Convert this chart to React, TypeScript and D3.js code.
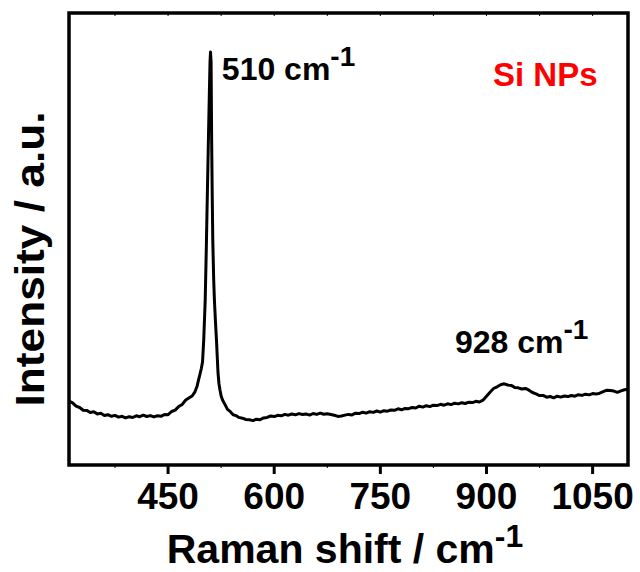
import React from "react";
import * as d3 from "d3";

const shifts: number[] = [
  310, 315, 320, 325, 330, 335, 340, 345, 350, 355, 360, 365, 370, 375, 380, 385, 390, 395, 400, 405,
  410, 415, 420, 425, 430, 435, 440, 445, 450, 455, 460, 465, 470, 475, 480, 484, 488, 491, 493, 495,
  497, 498.7, 500.4, 502.5, 504, 505.5, 507, 508.3, 509.3, 510, 510.8, 511.6, 512.4, 513.2, 514.5, 515.5, 517, 518.4, 519.6, 520.6,
  522, 523.4, 525, 527, 530.5, 534, 538, 542, 546, 550, 555, 560, 565, 570, 575, 580, 585, 590, 595, 600,
  605, 610, 615, 620, 625, 630, 635, 640, 645, 650, 655, 660, 665, 670, 675, 680, 685, 690, 695, 700,
  705, 710, 715, 720, 725, 730, 735, 740, 745, 750, 755, 760, 765, 770, 775, 780, 785, 790, 795, 800,
  805, 810, 815, 820, 825, 830, 835, 840, 845, 850, 855, 860, 865, 870, 875, 880, 885, 890, 895, 900,
  905, 910, 915, 920, 925, 930, 935, 940, 945, 950, 955, 960, 965, 970, 975, 980, 985, 990, 995, 1000,
  1005, 1010, 1015, 1020, 1025, 1030, 1035, 1040, 1045, 1050, 1055, 1060, 1065, 1070, 1075, 1080, 1085, 1090, 1095, 1100,
];

const intensities: number[] = [
  640, 622, 588, 575, 548, 546, 525, 532, 511, 517, 495, 503, 487, 496, 479, 487, 471, 483, 475, 492,
  483, 498, 485, 494, 481, 492, 487, 505, 503, 535, 549, 584, 606, 650, 672, 690, 732, 788, 848, 905,
  965, 1030, 1250, 1650, 2150, 2700, 3250, 3700, 4030, 4130, 4030, 3250, 2700, 2250, 1850, 1650, 1430, 1250, 1070, 920,
  810, 750, 690, 650, 604, 556, 533, 502, 494, 476, 468, 455, 452, 444, 458, 452, 471, 476, 490, 484,
  497, 492, 506, 498, 510, 502, 514, 505, 511, 499, 515, 506, 519, 508, 513, 505, 497, 486, 490, 499,
  506, 501, 518, 514, 528, 519, 533, 526, 540, 529, 543, 538, 550, 547, 562, 552, 566, 563, 575, 570,
  588, 579, 593, 584, 598, 594, 607, 598, 612, 604, 618, 611, 622, 615, 628, 624, 637, 630, 648, 688,
  728, 765, 782, 803, 812, 800, 796, 775, 772, 760, 766, 748, 725, 712, 694, 696, 678, 685, 672, 688,
  679, 690, 684, 695, 688, 703, 696, 708, 701, 714, 709, 718, 733, 748, 744, 739, 727, 741, 752, 758,
];

const majorTicks: number[] = [450, 600, 750, 900, 1050];
const minorTicks: number[] = [375, 525, 675, 825, 975];

const xTitle = "Raman shift / cm";
const yTitle = "Intensity / a.u.";
const sampleLabel = "Si NPs";
const peakLabels = [
  { text: "510 cm", shift: 526, value: 3850 },
  { text: "928 cm", shift: 855.5, value: 1120 },
];

const W = 640;
const H = 572;
const L = 69, R = 628, T = 13, B = 465;
const FONT = "'Liberation Sans', Arial, Helvetica, sans-serif";

export default function App() {
  const x = d3.scaleLinear().domain([310, 1100]).range([L, R]);
  const y = d3.scaleLinear().domain([0, 4520]).range([B, T]);
  const pts = shifts.map((s, i) => [s, intensities[i]] as [number, number]);
  const line = d3
    .line<[number, number]>()
    .x((d) => x(d[0]))
    .y((d) => y(d[1]))
    .curve(d3.curveLinear);

  return (
    <svg
      width={W}
      height={H}
      viewBox={`0 0 ${W} ${H}`}
      style={{ position: "absolute", left: 0, top: 0, background: "#fff" }}
      fontFamily={FONT}
    >
      <rect x={0} y={0} width={W} height={H} fill="#fff" />
      <path d={line(pts) || ""} fill="none" stroke="#000" strokeWidth={3} strokeLinejoin="round" />
      {/* frame */}
      <rect x={L} y={T} width={R - L} height={B - T} fill="none" stroke="#000" strokeWidth={3.5} />
      {/* ticks */}
      {majorTicks.map((t) => (
        <g key={"M" + t}>
          <line x1={x(t)} x2={x(t)} y1={B} y2={B + 9} stroke="#000" strokeWidth={3} />
          <line x1={x(t)} x2={x(t)} y1={T} y2={T + 3} stroke="#000" strokeWidth={1} />
          <text
            x={x(t)}
            y={509}
            textAnchor="middle"
            fontSize={37}
            fontWeight="bold"
            fill="#000"
          >
            {t}
          </text>
        </g>
      ))}
      {minorTicks.map((t) => (
        <g key={"m" + t}>
          <line x1={x(t)} x2={x(t)} y1={B} y2={B + 3} stroke="#000" strokeWidth={1} />
          <line x1={x(t)} x2={x(t)} y1={T} y2={T + 3} stroke="#000" strokeWidth={1} />
        </g>
      ))}
      {/* x title */}
      <text x={345} y={563} textAnchor="middle" fontSize={41} fontWeight="bold" fill="#000">
        {xTitle}
        <tspan fontSize={32} dy={-16}>-1</tspan>
      </text>
      {/* y title */}
      <text
        transform={`translate(44,259) rotate(-90)`}
        textAnchor="middle"
        fontSize={41}
        fontWeight="bold"
        fill="#000"
        textLength={295}
        lengthAdjust="spacingAndGlyphs"
      >
        {yTitle}
      </text>
      {/* peak labels */}
      {peakLabels.map((p) => (
        <text key={p.text} x={x(p.shift)} y={y(p.value)} fontSize={32} fontWeight="bold" fill="#000">
          {p.text}
          <tspan fontSize={28} dy={-14}>-1</tspan>
        </text>
      ))}
      <text x={493} y={86} fontSize={33} fontWeight="bold" fill="#ff0000">
        {sampleLabel}
      </text>
    </svg>
  );
}
